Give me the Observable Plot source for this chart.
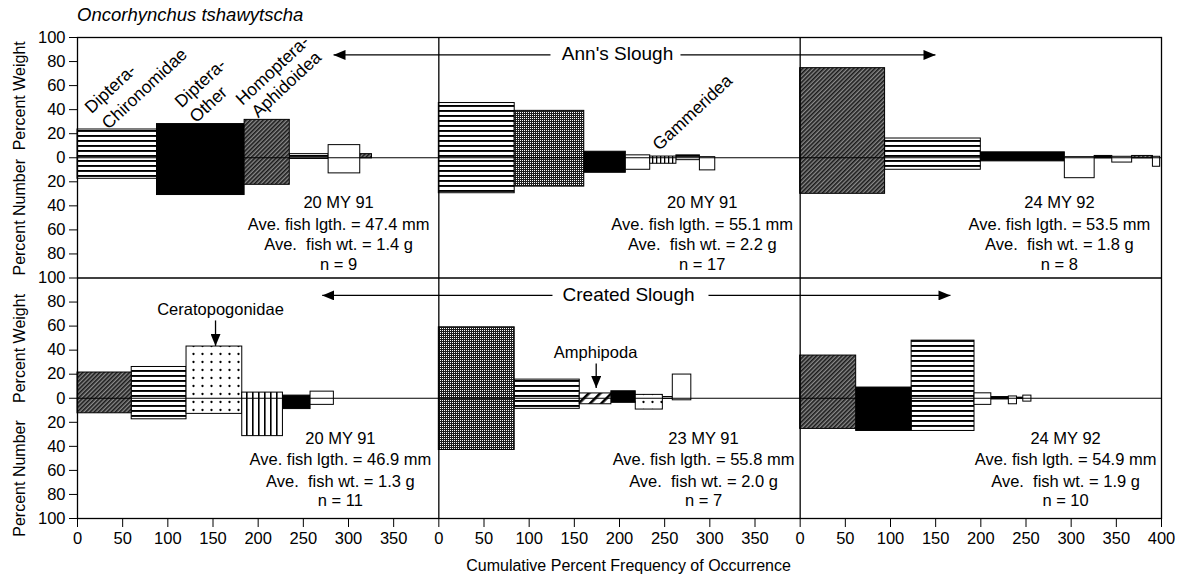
<!DOCTYPE html>
<html><head><meta charset="utf-8">
<script src="https://cdn.jsdelivr.net/npm/d3@7"></script>
<script src="https://cdn.jsdelivr.net/npm/@observablehq/plot@0.6"></script>
<style>
body{margin:0;background:#fff;font-family:"Liberation Sans",Arial,sans-serif;}
#title{height:30px;line-height:30px;padding-left:77px;font-style:italic;font-size:18.5px;color:#000;}
</style></head><body>
<div id="title">Oncorhynchus tshawytscha</div>
<div id="chart"></div>
<script>
// ---- data ----
const panelSlough = ["Ann's Slough","Ann's Slough","Ann's Slough","Created Slough","Created Slough","Created Slough"];
const panelDates = ["20 MY 91","20 MY 91","24 MY 92","20 MY 91","23 MY 91","24 MY 92"];
const fishLength = ["47.4","55.1","53.5","46.9","55.8","54.9"];
const fishWeight = ["1.4","2.2","1.8","1.3","2.0","1.9"];
const fishN = [9, 17, 8, 11, 7, 10];
const panelOffset = [0, 400, 800, 0, 400, 800];
const rowCenter = [200, 200, 200, 0, 0, 0];

// percent frequency of occurrence (bar widths), percent weight (up), percent number (down)
const freqOcc = [
  [88, 97, 50, 43, 35, 13],
  [84, 77, 46, 27, 29, 26, 17],
  [94, 106, 93, 33, 19.5, 22, 23, 8],
  [60, 60.7, 61.7, 45, 30.6, 25.8],
  [84, 72, 35, 27, 30, 11, 20.5],
  [62, 61.4, 69.6, 18.6, 19.4, 9, 7, 9]
];
const pctWeight = [
  [23.5, 28, 31.5, 3, 10.5, 3],
  [45.5, 39, 5, 2, 1, 2, 0.5],
  [74.5, 16, 4.5, 0.5, 1.5, 0.8, 1.5, 0.8],
  [21.4, 26, 43, 4.7, 2.2, 5.5],
  [59, 15.5, 4, 5.8, 2.8, 1, 19.7],
  [35.5, 8.9, 47.9, 4.1, 1, 1.5, 0.5, 2.2]
];
const pctNumber = [
  [17.5, 31, 22.5, 1, 13, 0.5],
  [29.5, 24, 12.5, 10, 5, 2, 10.5],
  [30, 10, 3, 17, 0.5, 4, 0.5, 7.5],
  [12.5, 17.5, 13, 31.5, 9, 5.5],
  [43, 8.8, 5, 3.8, 9.4, 0.5, 1.7],
  [25.5, 27.2, 27.2, 5.5, 1, 5, 0.5, 2.8]
];
const preyFill = [
  ["hstripe","black","diag","hstripe","white","diag"],
  ["hstripe","stipple","black","white","vbox","hstripe","white"],
  ["diag","hstripe","black","white","black","white","diag","white"],
  ["diag","hstripe","dots","vstripe","black","white"],
  ["stipple","hstripe","coarse","black","dots","hstripe","white"],
  ["diag","black","hstripe","white","black","white","black","white"]
];

// tick labels
const xTicks = d3.range(0, 1201, 50);
const yTicks = d3.range(-100, 301, 20);

// annotation labels
const taxonLabels = [
  {text: "Diptera-", x: 36.5, y: 257.3},
  {text: "Chironomidae", x: 74.2, y: 257.3},
  {text: "Diptera-", x: 136.2, y: 262},
  {text: "Other", x: 145, y: 244.3},
  {text: "Homoptera-", x: 215.9, y: 272.6},
  {text: "Aphidoidea", x: 231.4, y: 260.9},
  {text: "Gammeridea", x: 680.8, y: 237.6}
];
const flatLabels = [
  {text: "Ceratopogonidae", x: 158.3, y: 73.6},
  {text: "Amphipoda", x: 573.5, y: 37.5}
];
const sloughLabels = [
  {text: "Ann's Slough", x: 597.8, y: 286.4},
  {text: "Created Slough", x: 610, y: 86.3}
];
const arrowLines = [
  {x1: 523.6, y1: 285.5, x2: 283.4, y2: 285.5},
  {x1: 667.5, y1: 285.5, x2: 949.8, y2: 285.5},
  {x1: 525.8, y1: 85.5, x2: 270.9, y2: 85.5},
  {x1: 698.5, y1: 85.5, x2: 966.4, y2: 85.5},
  {x1: 152.8, y1: 64.7, x2: 152.8, y2: 43.5},
  {x1: 574.2, y1: 29, x2: 574.2, y2: 8.5}
];
const statX = [289, 291.6, 287, 291, 293, 293.8];
const statLineOffsets = [[-37, -56, -72, -89], [-34, -51, -69, -85.5]];
const yTitles = [
  {text: "Percent Weight", y: 251.5},
  {text: "Percent Number", y: 150.5},
  {text: "Percent Weight", y: 41.4},
  {text: "Percent Number", y: -66.7}
];

// ---- build tables ----
const bars = [];
freqOcc.forEach((widths, p) => {
  let cum = 0;
  widths.forEach((w, i) => {
    bars.push({
      x1: panelOffset[p] + cum, x2: panelOffset[p] + cum + w,
      y1: rowCenter[p] - pctNumber[p][i], y2: rowCenter[p] + pctWeight[p][i],
      fill: preyFill[p][i]
    });
    cum += w;
  });
});
const stats = [];
panelDates.forEach((d, p) => {
  const row = p < 3 ? 0 : 1;
  const lines = [d, `Ave. fish lgth. = ${fishLength[p]} mm`, `Ave.\u00a0 fish wt. = ${fishWeight[p]} g`, `n = ${fishN[p]}`];
  lines.forEach((t, k) => stats.push({text: t, x: panelOffset[p] + statX[p], y: rowCenter[p] + statLineOffsets[row][k]}));
});

const fillOf = f => f === "black" ? "#000" : f === "white" ? "#fff" : `url(#${f})`;
const patternNames = [...new Set(bars.map(b => b.fill))];
const barMarks = patternNames.map(f => Plot.rect(bars.filter(b => b.fill === f), {
  x1: "x1", x2: "x2", y1: "y1", y2: "y2", fill: fillOf(f), stroke: "#000", strokeWidth: 1
}));

const font = "'Liberation Sans', Arial, sans-serif";
const svg = Plot.plot({
  width: 1186, height: 550,
  marginLeft: 77, marginRight: 25, marginTop: 7, marginBottom: 62,
  style: {fontFamily: font, fontSize: "16.5px", color: "#000", background: "#fff", overflow: "visible"},
  x: {domain: [0, 1200], ticks: xTicks, tickFormat: d => d === 1200 ? 400 : d % 400, tickSize: 9, tickPadding: 5, label: null},
  y: {domain: [-100, 300], ticks: yTicks, tickFormat: v => Math.abs(v >= 100 ? v - 200 : v), tickSize: 8, tickPadding: 4, label: null},
  marks: [
    ...barMarks,
    Plot.ruleY([0, 200], {stroke: "#000", strokeWidth: 1}),
    Plot.ruleY([100], {stroke: "#000", strokeWidth: 1.3}),
    Plot.ruleX([400, 800], {stroke: "#000", strokeWidth: 1.3}),
    Plot.frame({stroke: "#000", strokeWidth: 1.3}),
    Plot.link(arrowLines, {x1: "x1", y1: "y1", x2: "x2", y2: "y2", stroke: "#000", strokeWidth: 1.3}),
    Plot.text(stats, {x: "x", y: "y", text: "text", fontSize: 16.5, fill: "#000"}),
    Plot.text(taxonLabels, {x: "x", y: "y", text: "text", rotate: -43, fontSize: 17.5, fill: "#000"}),
    Plot.text(flatLabels, {x: "x", y: "y", text: "text", fontSize: 16.5, fill: "#000"}),
    Plot.text(sloughLabels, {x: "x", y: "y", text: "text", fontSize: 19, fill: "#000", stroke: "#fff", strokeWidth: 8, paintOrder: "stroke"}),
    Plot.text(yTitles, {y: "y", text: "text", frameAnchor: "left", textAnchor: "middle", dx: -58, rotate: -90, fontSize: 16, fill: "#000"}),
    Plot.text(["Cumulative Percent Frequency of Occurrence"], {x: 610, frameAnchor: "bottom", dy: 52, text: d => d, fontSize: 16, fill: "#000"})
  ]
});

// ---- patterns & arrowheads ----
const defs = d3.select(svg).insert("defs", ":first-child");
function pat(id, w, h, tr) {
  const p = defs.append("pattern").attr("id", id).attr("patternUnits", "userSpaceOnUse").attr("width", w).attr("height", h);
  if (tr) p.attr("patternTransform", tr);
  return p;
}
let p;
p = pat("hstripe", 6, 5); p.append("rect").attr("width", 6).attr("height", 5).attr("fill", "#fff"); p.append("rect").attr("width", 6).attr("height", 1.9).attr("fill", "#000");
p = pat("vstripe", 6, 6); p.append("rect").attr("width", 6).attr("height", 6).attr("fill", "#fff"); p.append("rect").attr("width", 1.6).attr("height", 6).attr("fill", "#000");
p = pat("vbox", 4, 4); p.append("rect").attr("width", 4).attr("height", 4).attr("fill", "#fff"); p.append("rect").attr("width", 1.3).attr("height", 4).attr("fill", "#000");
p = pat("diag", 3, 3, "rotate(45)"); p.append("rect").attr("width", 3).attr("height", 3).attr("fill", "#8a8a8a"); p.append("rect").attr("width", 1.6).attr("height", 3).attr("fill", "#1a1a1a");
p = pat("stipple", 2, 2); p.append("rect").attr("width", 2).attr("height", 2).attr("fill", "#1e1e1e"); p.append("rect").attr("width", 1).attr("height", 1).attr("fill", "#fff");
p = pat("dots", 9, 8); p.append("rect").attr("width", 9).attr("height", 8).attr("fill", "#fff"); p.append("circle").attr("cx", 4.5).attr("cy", 4).attr("r", 1.15).attr("fill", "#000");
p = pat("coarse", 8, 8, "rotate(45)"); p.append("rect").attr("width", 8).attr("height", 8).attr("fill", "#fff"); p.append("rect").attr("width", 2.6).attr("height", 8).attr("fill", "#000");
defs.append("marker").attr("id", "ahead").attr("viewBox", "0 0 10 10").attr("refX", 10).attr("refY", 5)
  .attr("markerWidth", 12).attr("markerHeight", 10).attr("markerUnits", "userSpaceOnUse").attr("orient", "auto")
  .attr("preserveAspectRatio", "none")
  .append("path").attr("d", "M0,0L10,5L0,10Z").attr("fill", "#000");
d3.select(svg).selectAll('g[aria-label="link"] path').attr("marker-end", "url(#ahead)");

document.getElementById("chart").appendChild(svg);
</script>
</body></html>
